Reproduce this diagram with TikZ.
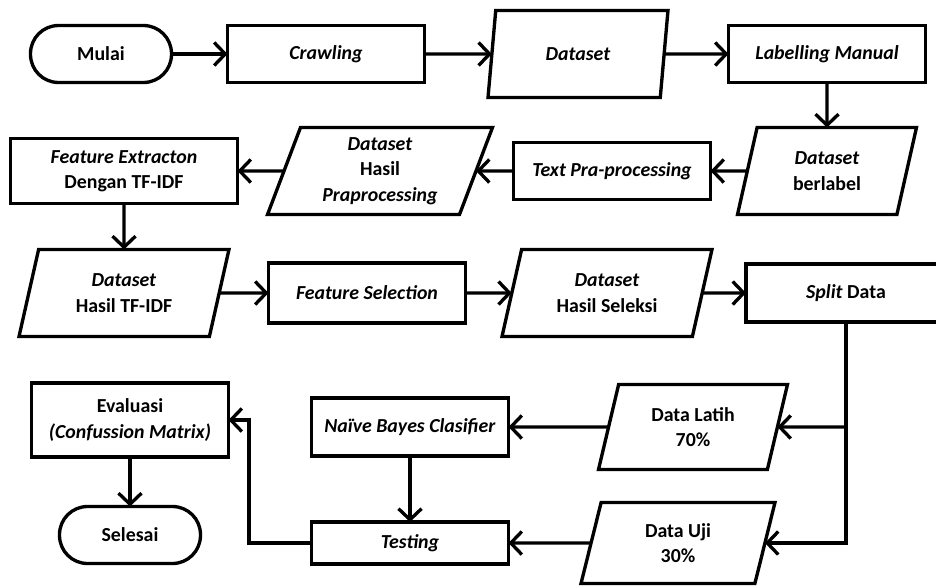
\documentclass[tikz,border=0pt]{standalone}
\usepackage{fontspec}
\setmainfont{Carlito}
\usetikzlibrary{shapes.geometric,arrows.meta}

\begin{document}
\begin{tikzpicture}[x=0.02cm, y=-0.02cm, line width=1.9pt, outer sep=0pt, inner sep=1pt,
    font=\bfseries\fontsize{11.3}{14.5}\selectfont,
    proses/.style={draw, rectangle, minimum width=3.94cm, minimum height=1.14cm, align=center},
    data/.style={draw, trapezium, trapezium left angle=65, trapezium right angle=115,
        trapezium stretches body, minimum width=3.6cm, minimum height=1.74cm, align=center},
    ujung/.style={draw, rectangle, rounded corners=0.56cm, minimum width=2.82cm, minimum height=1.14cm},
    panah/.style={-{Straight Barb[length=2.2mm, width=4.6mm]}}]
    \useasboundingbox (0,0) rectangle (936,585);

    % baris 1
    \node[ujung] (mulai) at (101,54) {Mulai};
    \node[proses] (crawl) at (326,54) {\textit{Crawling}};
    \node[data] (ds) at (578,54) {\textit{Dataset}};
    \node[proses] (label) at (827,54) {\textit{Labelling Manual}};
    % baris 2
    \node[data, minimum width=3.58cm] (dsl) at (827,171) {\textit{Dataset}\\berlabel};
    \node[proses] (prep) at (612,171) {\textit{Text Pra-processing}};
    \node[data, minimum width=4.5cm] (dsp) at (380,171) {\textit{Dataset}\\Hasil\\\textit{Praprocessing}};
    \node[proses, minimum width=4.54cm, minimum height=1.3cm] (fe) at (124,171) {\textit{Feature Extracton}\\Dengan TF-IDF};
    % baris 3
    \node[data, minimum width=4.2cm] (dst) at (124,293) {\textit{Dataset}\\Hasil TF-IDF};
    \node[proses, minimum height=1.2cm] (fs) at (367,293) {\textit{Feature Selection}};
    \node[data, minimum width=4.2cm] (dss) at (607,293) {\textit{Dataset}\\Hasil Seleksi};
    \node[proses, minimum width=4cm, minimum height=1.16cm] (split) at (846,293) {\textit{Split} Data};
    % baris 4
    \node[proses, minimum height=1.48cm] (eval) at (130,420) {Evaluasi\\\textit{(Confussion Matrix)}};
    \node[proses, minimum height=1.16cm] (nb) at (410,427) {\textit{Naïve Bayes Clasifier}};
    \node[data, minimum width=3.78cm, minimum height=1.7cm] (dlat) at (693,427) {Data Latih\\70\%};
    \node[data, minimum width=3.88cm, minimum height=1.62cm] (duji) at (678,543) {Data Uji\\30\%};
    \node[proses, minimum height=0.84cm] (test) at (410,543) {\textit{Testing}};
    \node[ujung] (sel) at (130,535) {Selesai};

    \coordinate (cabang) at (split.south |- dlat);
    \coordinate (belok) at (249,543);

    \draw[panah] (mulai) -- (crawl);
    \draw[panah] (crawl) -- (ds);
    \draw[panah] (ds) -- (label);
    \draw[panah] (label) -- (dsl);
    \draw[panah] (dsl) -- (prep);
    \draw[panah] (prep) -- (dsp);
    \draw[panah] (dsp) -- (fe);
    \draw[panah] (fe) -- (dst);
    \draw[panah] (dst) -- (fs);
    \draw[panah] (fs) -- (dss);
    \draw[panah] (dss) -- (split);
    \draw[panah] (split) |- (duji);
    \draw[panah] (cabang) -- (dlat);
    \draw[panah] (dlat) -- (nb);
    \draw[panah] (duji) -- (test);
    \draw[panah] (nb) -- (test);
    \draw[panah] (test) -- (belok) |- (eval);
    \draw[panah] (eval) -- (sel);
\end{tikzpicture}
\end{document}
